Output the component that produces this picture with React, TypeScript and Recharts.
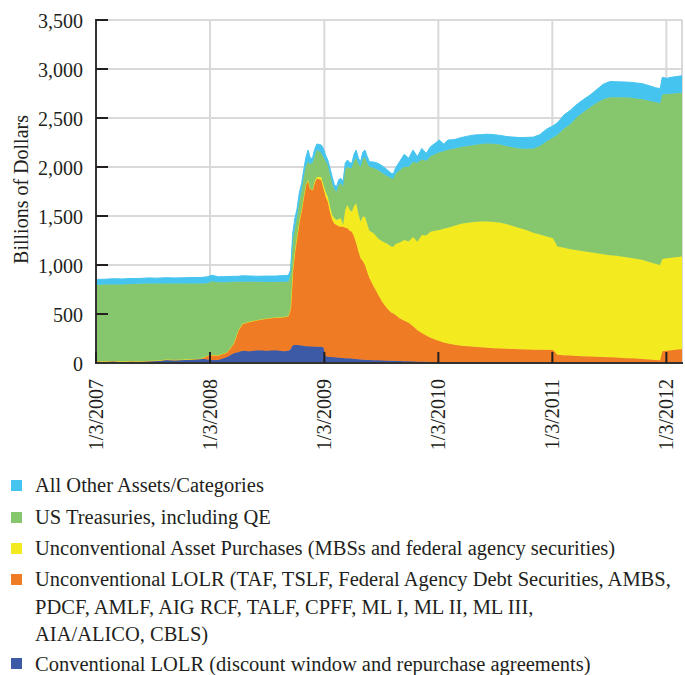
import { AreaChart, Area, XAxis, YAxis, CartesianGrid } from 'recharts';

// weekly-ish observation dates (H.4.1 Wednesdays)
const dates = [
  '2007-01-03', '2007-01-31', '2007-02-28', '2007-03-28', '2007-04-25', '2007-05-23', '2007-06-20',
  '2007-07-18', '2007-08-15', '2007-09-12', '2007-10-10', '2007-11-07', '2007-12-05', '2007-12-26',
  '2008-01-09', '2008-01-30', '2008-02-27', '2008-03-19', '2008-04-02', '2008-04-16', '2008-05-07',
  '2008-06-04', '2008-07-02', '2008-07-30', '2008-08-27', '2008-09-10', '2008-09-17', '2008-09-24',
  '2008-10-01', '2008-10-08', '2008-10-15', '2008-10-22', '2008-10-29', '2008-11-05', '2008-11-12',
  '2008-11-19', '2008-11-26', '2008-12-03', '2008-12-10', '2008-12-17', '2008-12-24', '2008-12-31',
  '2009-01-07', '2009-01-14', '2009-01-21', '2009-01-28', '2009-02-04', '2009-02-11', '2009-02-18',
  '2009-02-25', '2009-03-04', '2009-03-11', '2009-03-18', '2009-03-25', '2009-04-01', '2009-04-08',
  '2009-04-15', '2009-04-22', '2009-04-29', '2009-05-06', '2009-05-13', '2009-05-20', '2009-05-27',
  '2009-06-10', '2009-06-24', '2009-07-08', '2009-07-22', '2009-08-05', '2009-08-12', '2009-08-19',
  '2009-09-02', '2009-09-16', '2009-09-30', '2009-10-14', '2009-10-28', '2009-11-11', '2009-11-25',
  '2009-12-09', '2009-12-23',
  '2010-01-06', '2010-01-20', '2010-02-03', '2010-02-24', '2010-03-17', '2010-04-07', '2010-04-28',
  '2010-05-19', '2010-06-09', '2010-06-30', '2010-07-21', '2010-08-11', '2010-09-01', '2010-09-22',
  '2010-10-13', '2010-11-03', '2010-11-24', '2010-12-15',
  '2011-01-05', '2011-01-19', '2011-02-09', '2011-03-02', '2011-03-23', '2011-04-13', '2011-05-04',
  '2011-05-25', '2011-06-15', '2011-07-06', '2011-07-27', '2011-08-17', '2011-09-07', '2011-09-28',
  '2011-10-19', '2011-11-09', '2011-11-30', '2011-12-14', '2011-12-21',
  '2012-01-04', '2012-01-18', '2012-02-01', '2012-02-15', '2012-02-22',
];

// billions of dollars, one value per date
const conventionalLOLR = [
  20, 18, 22, 15, 20, 18, 22, 25, 35, 32, 35, 40, 45, 35,
  31, 30, 60, 100, 110, 125, 120, 130, 125, 130, 120, 125, 140, 180,
  184, 184, 180, 178, 175, 172, 170, 168, 168, 167, 166, 165, 165, 160,
  70, 65, 62, 60, 58, 55, 55, 52, 50, 48, 48, 46, 45, 42, 40, 38, 35, 34, 32, 31, 30,
  28, 27, 25, 24, 22, 22, 21, 20, 18, 17, 15, 14, 13, 12, 11, 10,
  9, 8, 6, 5, 3, 2, 1, 0, 0, 0, 0, 0, 0, 0, 0, 0, 0, 0,
  0, 0, 0, 0, 0, 0, 0, 0, 0, 0, 0, 0, 0, 0, 0, 0, 0, 0, 0,
  0, 0, 0, 0, 0,
];

const unconventionalLOLR = [
  0, 0, 0, 0, 0, 0, 0, 0, 0, 0, 0, 0, 0, 40,
  50, 50, 50, 100, 220, 275, 300, 310, 330, 335, 350, 355, 420, 770,
  966, 1116, 1270, 1382, 1525, 1648, 1700, 1612, 1597, 1673, 1714, 1710, 1702, 1620,
  1630, 1581, 1478, 1399, 1362, 1353, 1340, 1339, 1341, 1332, 1326, 1304, 1295, 1248,
  1181, 1102, 1035, 1006, 968, 899, 840, 752, 673, 595, 536, 493, 483, 469,
  435, 412, 393, 360, 321, 292, 268, 247, 230,
  216, 202, 192, 180, 173, 168, 164, 160, 155, 150, 148, 145, 142, 140, 138, 136, 135, 134,
  133, 85, 80, 76, 72, 70, 67, 64, 61, 58, 55, 52, 48, 45, 40, 35, 30, 28, 120,
  126, 130, 135, 140, 140,
];

const assetPurchases = [
  0, 0, 0, 0, 0, 0, 0, 0, 0, 0, 0, 0, 0, 0,
  0, 0, 0, 0, 0, 0, 0, 0, 0, 0, 0, 0, 0, 0,
  0, 0, 0, 0, 0, 0, 0, 0, 0, 15, 18, 23, 31, 40,
  45, 51, 60, 51, 60, 51, 75, 85, 17, 180, 238, 210, 204, 310,
  408, 380, 372, 453, 493, 490, 480, 543, 570, 620, 660, 675, 682, 725,
  775, 825, 830, 910, 903, 1001, 1020, 1082, 1110,
  1132, 1160, 1182, 1215, 1244, 1260, 1275, 1285, 1290, 1290, 1282, 1270, 1253, 1235, 1217, 1194, 1175, 1156,
  1139, 1105, 1095, 1084, 1078, 1070, 1063, 1056, 1049, 1042, 1040, 1033, 1027, 1020, 1010, 995, 980, 972, 942,
  944, 945, 945, 945, 946,
];

const treasuries = [
  775, 782, 780, 787, 785, 790, 788, 785, 775, 778, 775, 770, 765, 740,
  754, 745, 715, 628, 498, 430, 410, 388, 372, 362, 360, 350, 340, 300,
  230, 200, 200, 200, 200, 190, 184, 250, 272, 255, 275, 262, 245, 280,
  315, 323, 330, 323, 290, 289, 350, 357, 392, 420, 391, 430, 446, 460,
  460, 510, 558, 587, 607, 620, 653, 667, 699, 695, 690, 694, 693, 715,
  740, 748, 760, 765, 802, 774, 760, 770, 780,
  793, 790, 795, 790, 785, 785, 785, 790, 795, 798, 800, 797, 805, 815, 830, 858, 905, 970,
  1028, 1140, 1215, 1280, 1360, 1420, 1480, 1535, 1582, 1612, 1617, 1627, 1633, 1635, 1642, 1646, 1650, 1650, 1678,
  1675, 1673, 1672, 1670, 1672,
];

const otherAssets = [
  58, 55, 58, 56, 57, 55, 58, 56, 60, 58, 60, 62, 62, 65,
  60, 55, 57, 57, 57, 60, 58, 57, 60, 60, 62, 65, 50, 80,
  100, 80, 90, 70, 70, 90, 119, 60, 52, 70, 62, 70, 81, 90,
  60, 51, 60, 68, 50, 51, 50, 51, 50, 60, 68, 55, 47, 70,
  84, 60, 54, 70, 73, 70, 51, 60, 68, 75, 65, 51, 50, 60,
  90, 127, 89, 123, 65, 110, 79, 97, 110,
  125, 75, 100, 90, 95, 100, 102, 95, 95, 92, 92, 98, 105, 110, 117, 117, 115, 125,
  120, 120, 140, 140, 130, 130, 125, 135, 153, 160, 158, 156, 157, 158, 158, 154, 148, 150, 175,
  160, 167, 170, 173, 172,
];

const xTickDates = ['2007-01-03', '2008-01-03', '2009-01-03', '2010-01-03', '2011-01-03', '2012-01-03'];
const yTicks = [0, 500, 1000, 1500, 2000, 2500, 3000, 3500];

// bottom to top
const series = [
  { key: 'conv', color: '#3c5aa6', lines: ['Conventional LOLR (discount window and repurchase agreements)'] },
  {
    key: 'unconv',
    color: '#f07b25',
    lines: [
      'Unconventional LOLR (TAF, TSLF, Federal Agency Debt Securities, AMBS,',
      'PDCF, AMLF, AIG RCF, TALF, CPFF, ML I, ML II, ML III,',
      'AIA/ALICO, CBLS)',
    ],
  },
  { key: 'asset', color: '#f3ea1f', lines: ['Unconventional Asset Purchases (MBSs and federal agency securities)'] },
  { key: 'treas', color: '#86c76e', lines: ['US Treasuries, including QE'] },
  { key: 'other', color: '#45c4ef', lines: ['All Other Assets/Categories'] },
];

const toTime = (d: string) => Date.parse(d + 'T00:00:00Z');

const data = dates.map((d, i) => ({
  t: toTime(d),
  conv: conventionalLOLR[i],
  unconv: unconventionalLOLR[i],
  asset: assetPurchases[i],
  treas: treasuries[i],
  other: otherAssets[i],
}));

const xDomain = [toTime('2007-01-03'), toTime('2012-02-22')];
const xTicks = xTickDates.map(toTime);

const FONT = '"Liberation Serif", "Times New Roman", serif';
const INK = '#231f20';
const FRAME = { stroke: '#333333', strokeWidth: 2, strokeLinecap: 'square' as const };

const XTick = (props: any) => {
  const { x, y, payload } = props;
  const axisY = y - 16;
  const d = new Date(payload.value);
  const label = `${d.getUTCMonth() + 1}/${d.getUTCDate()}/${d.getUTCFullYear()}`;
  return (
    <g>
      <line x1={x} x2={x} y1={axisY} y2={axisY - 11} stroke={INK} strokeWidth={2} />
      <text
        x={x}
        y={y}
        dy="0.35em"
        transform={`rotate(-90 ${x} ${y})`}
        textAnchor="end"
        fontFamily={FONT}
        fontSize={20}
        fill={INK}
      >
        {label}
      </text>
    </g>
  );
};

const YTick = (props: any) => {
  const { x, y, payload } = props;
  const axisX = x + 13;
  return (
    <g>
      {payload.value > 0 && <line x1={axisX} x2={axisX + 12} y1={y} y2={y} stroke={INK} strokeWidth={2} />}
      <text x={x} y={y} dy="0.4em" textAnchor="end" fontFamily={FONT} fontSize={20} fill={INK}>
        {payload.value.toLocaleString('en-US')}
      </text>
    </g>
  );
};

const YLabel = (props: any) => {
  const vb = props.viewBox || { x: 0, y: 20, width: 96, height: 343 };
  const cx = vb.x + 21;
  const cy = vb.y + vb.height / 2 - 2;
  return (
    <text
      x={cx}
      y={cy}
      dy="0.35em"
      transform={`rotate(-90 ${cx} ${cy})`}
      textAnchor="middle"
      fontFamily={FONT}
      fontSize={20}
      fill={INK}
    >
      Billions of Dollars
    </text>
  );
};

function Legend() {
  const items = [...series].reverse();
  const gaps = [0, 10, 9, 7, 6];
  return (
    <div style={{ position: 'absolute', left: 0, top: 474, width: 685, fontFamily: FONT, fontSize: 20.5, color: INK }}>
      {items.map((s, idx) => {
        const lh = s.lines.length > 1 ? 27.5 : idx === items.length - 1 ? 18 : 22;
        return (
          <div
            key={s.key}
            style={{ position: 'relative', paddingLeft: 35, marginTop: gaps[idx], lineHeight: `${lh}px`, whiteSpace: 'nowrap' }}
          >
            <span style={{ position: 'absolute', left: 11, top: (lh - 11) / 2, width: 11, height: 11, background: s.color }} />
            {s.lines.map((l, i) => (
              <div key={i}>{l}</div>
            ))}
          </div>
        );
      })}
    </div>
  );
}

export default function App() {
  return (
    <div style={{ position: 'absolute', left: 0, top: 0, width: 685, height: 675, background: '#fff' }}>
      <AreaChart width={685} height={460} data={data} margin={{ top: 20, right: 3, bottom: 0, left: 0 }}>
        <CartesianGrid stroke="#d9d9d9" strokeWidth={2} />
        {series.map((s) => (
          <Area
            key={s.key}
            type="linear"
            dataKey={s.key}
            stackId="fed"
            fill={s.color}
            fillOpacity={1}
            stroke={s.color}
            strokeWidth={1}
            dot={false}
            activeDot={false}
            isAnimationActive={false}
          />
        ))}
        <XAxis
          dataKey="t"
          type="number"
          domain={xDomain}
          ticks={xTicks}
          interval={0}
          height={97}
          tickSize={0}
          tickMargin={16}
          tickLine={false}
          axisLine={FRAME}
          tick={(p: any) => <XTick {...p} />}
        />
        <YAxis
          type="number"
          domain={[0, 3500]}
          ticks={yTicks}
          interval={0}
          width={96}
          tickSize={0}
          tickMargin={13}
          tickLine={false}
          axisLine={FRAME}
          tick={(p: any) => <YTick {...p} />}
          label={{ value: 'Billions of Dollars', content: (p: any) => <YLabel {...p} /> }}
        />
        <XAxis
          xAxisId="top"
          orientation="top"
          dataKey="t"
          type="number"
          domain={xDomain}
          height={0}
          tick={false}
          tickLine={false}
          axisLine={FRAME}
        />
        <YAxis
          yAxisId="right"
          orientation="right"
          type="number"
          domain={[0, 3500]}
          width={0}
          tick={false}
          tickLine={false}
          axisLine={FRAME}
        />
      </AreaChart>
      <Legend />
    </div>
  );
}
